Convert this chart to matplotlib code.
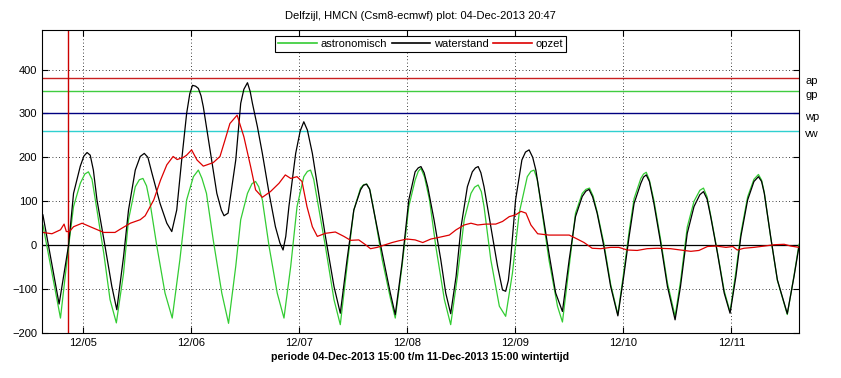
import numpy as np
import pandas as pd
import matplotlib
matplotlib.use('Agg')
from matplotlib import pyplot as plt
import matplotlib.dates as mdates

plt.rcParams['font.family'] = ['Liberation Sans', 'DejaVu Sans']
plt.rcParams['font.size'] = 8

# period shown, hours below are counted from t_start
t_start = pd.Timestamp('2013-12-04 15:00')
t_end = pd.Timestamp('2013-12-11 15:00')
t_plot = pd.Timestamp('2013-12-04 20:47')

# waterstand (black): (hour, cm)
waterstand = [
    (0.2, 69), (3.8, -134), (5.9, 0), (7, 118), (8.5, 180), (9.3, 203), (10, 211),
    (10.7, 205), (11.4, 171), (12.2, 103), (14, -3), (15.5, -94), (16.6, -147),
    (18.1, -26), (19.2, 80), (20.7, 171), (21.8, 202), (22.7, 209), (23.5, 200),
    (24.4, 164), (26.2, 95), (27.7, 50), (28.8, 31), (29.9, 80), (31, 194), (32.1, 300),
    (32.8, 345), (33.4, 364), (34.1, 362), (34.7, 357), (35.3, 340), (35.8, 315),
    (37.3, 217), (38.8, 118), (39.8, 80), (40.4, 67), (41.3, 73), (42.2, 137), (43, 194),
    (44.1, 323), (44.8, 355), (45.6, 370), (46.2, 350), (46.7, 323), (47.8, 270),
    (48.9, 209), (50.4, 118), (51.8, 42), (52.8, 5), (53.5, -11), (54.1, 20), (54.8, 88),
    (56.3, 209), (57.3, 260), (58.1, 281), (58.9, 262), (60, 209), (61.4, 118),
    (62.9, 20), (64.8, -94), (66.2, -155), (67.7, -33), (69.2, 80), (70.7, 126),
    (71.3, 136), (72, 139), (72.7, 128), (73.6, 80), (75.5, -18), (77.3, -109),
    (78.4, -158), (79.9, -41), (81.4, 103), (82.8, 167), (83.5, 176), (84.1, 179),
    (84.8, 165), (85.6, 133), (87, 58), (88.5, -33), (89.6, -109), (90.7, -156),
    (91.9, -71), (93, 42), (94.4, 133), (95.5, 167), (96.2, 176), (96.8, 179),
    (97.4, 165), (98.1, 133), (99.6, 42), (101.1, -48), (102.2, -102), (102.9, -105),
    (103.5, -80), (104, -33), (105.1, 103), (106.5, 194), (107.3, 212), (108.1, 217),
    (108.9, 200), (109.6, 171), (111, 80), (112.5, -18), (114, -109), (115.5, -151),
    (117, -33), (118.4, 65), (119.9, 111), (120.7, 123), (121.4, 127), (122.2, 110),
    (123.2, 73), (124.7, -3), (126.2, -94), (127.8, -161), (129.1, -71), (130.3, 20),
    (131.4, 95), (132.9, 141), (133.5, 155), (134.1, 160), (134.8, 145), (135.8, 95),
    (137.3, 5), (138.8, -94), (140.5, -170), (141.7, -94), (143.2, 27), (144.7, 88),
    (146, 115), (146.8, 122), (147.6, 105), (148.4, 65), (149.9, -18), (151.4, -109),
    (152.7, -155), (154, -71), (155.1, 20), (156.6, 103), (158, 145), (159, 156),
    (159.7, 145), (160.3, 118), (161.7, 20), (163.2, -79), (165.4, -156), (166.9, -71),
    (168, -3),
]

# astronomisch (green)
astronomisch = [
    (0.2, 46), (4.1, -166), (5.9, -3), (7, 88), (8.5, 141), (9.5, 162), (10.3, 167),
    (11.1, 150), (12.2, 80), (13.7, -18), (15.1, -124), (16.5, -177), (18.1, -64),
    (19.2, 58), (20.7, 133), (21.6, 149), (22.4, 152), (23.2, 135), (24, 95), (25.5, -3),
    (27.3, -109), (28.9, -166), (30.6, -33), (32.1, 103), (33.6, 156), (34.7, 171),
    (35.5, 152), (36.5, 118), (38, 12), (39.9, -109), (41.4, -178), (43, -48), (44.1, 58),
    (45.6, 118), (46.6, 140), (47.4, 145), (48.1, 133), (48.9, 103), (50.4, -3),
    (52.2, -109), (53.7, -166), (55.2, -48), (56.6, 88), (58.1, 156), (58.9, 168),
    (59.6, 171), (60.3, 150), (61.1, 103), (62.9, -3), (64.8, -124), (66.2, -181),
    (67.7, -48), (69.2, 80), (70.7, 130), (71.4, 138), (72.1, 139), (72.8, 125),
    (73.6, 82), (75.5, -33), (77.3, -120), (78.4, -166), (79.9, -48), (81.4, 88),
    (82.8, 148), (83.5, 168), (84.1, 175), (84.9, 155), (86, 103), (87.4, -3),
    (89.3, -124), (90.7, -181), (92.2, -71), (93.7, 58), (95.2, 118), (96, 132),
    (96.8, 137), (97.5, 122), (98.1, 88), (99.6, -33), (101.5, -139), (102.9, -162),
    (104.4, -64), (105.9, 73), (107.7, 156), (108.5, 168), (109.2, 171), (109.9, 150),
    (110.6, 103), (112.5, -33), (114.4, -139), (115.5, -175), (117, -48), (118.4, 73),
    (119.9, 118), (120.7, 127), (121.5, 130), (122.3, 112), (123.2, 76), (124.7, 4),
    (126.2, -89), (127.8, -158), (129.1, -62), (130.3, 31), (131.4, 106), (132.9, 152),
    (133.5, 162), (134.1, 166), (134.8, 148), (135.8, 102), (137.3, 12), (138.8, -86),
    (140.5, -162), (141.7, -83), (143.2, 41), (144.7, 100), (146, 125), (146.8, 130),
    (147.6, 110), (148.4, 68), (149.9, -16), (151.4, -104), (152.7, -152), (154, -60),
    (155.1, 27), (156.6, 110), (158, 150), (159, 161), (159.7, 148), (160.3, 120),
    (161.7, 19), (163.2, -80), (165.4, -158), (166.9, -69), (168, 2),
]

# opzet (red)
opzet = [
    (0.2, 29), (2.2, 26), (4.1, 35), (4.9, 48), (5.4, 31), (6.1, 31), (7, 42), (8.9, 50),
    (10.7, 42), (13.7, 29), (16.2, 29), (17.3, 36), (19.6, 50), (21.8, 58), (22.9, 67),
    (24.8, 103), (26.3, 148), (27.7, 183), (29.1, 202), (30, 195), (31.4, 200),
    (32.1, 205), (33.2, 217), (34.4, 194), (35.8, 180), (38, 188), (39.5, 202),
    (40.6, 239), (41.7, 277), (43.3, 296), (44.8, 247), (46.3, 179), (47.4, 126),
    (48.9, 109), (50.7, 122), (52.6, 141), (54, 160), (55.2, 152), (56.6, 156),
    (57.7, 145), (58.8, 88), (60, 42), (61.1, 20), (62.9, 27), (65.1, 30), (67, 20),
    (68.5, 11), (70.3, 12), (71.8, 1), (72.9, -8), (74.4, -5), (76.2, 1), (77.7, 6),
    (79.2, 10), (81, 14), (82.8, 12), (84.5, 6), (86.3, 14), (88.2, 18), (90.4, 23),
    (91.9, 35), (93.7, 46), (95.2, 50), (96.7, 46), (98.5, 48), (100.7, 48), (102.2, 54),
    (103.7, 65), (105.1, 69), (106.3, 77), (107.4, 73), (108.5, 46), (110, 26),
    (112.5, 23), (114.8, 23), (117, 23), (118.4, 16), (120.3, 6), (122.1, -7), (124, -8),
    (126.2, -5), (128, -5), (129.9, -11), (132.1, -12), (134.3, -8), (136.5, -7),
    (139.5, -8), (141.7, -11), (144, -14), (145.8, -12), (147.7, -3), (149.6, -2),
    (151.8, -5), (153.3, -3), (154.3, -11), (155.8, -7), (158, -5), (160.3, -2),
    (162.5, 1), (164.7, 2), (166.2, -2), (168, -5),
]

# levels on the right
lvl_names = ['ap', 'gp', 'wp', 'vw']
lvl_values = [380, 350, 300, 260]
lvl_colors = ['#c82020', '#40cc40', '#000080', '#30d0d0']


def split(series):
    arr = np.array(series, dtype=float)
    t = t_start + pd.to_timedelta(arr[:, 0], unit='h')
    return t, arr[:, 1]


fig = plt.figure(figsize=(8.41, 3.78), dpi=100)
ax = fig.add_axes([42 / 841, 1 - 333 / 378, 757 / 841, 303 / 378])

ax.axhline(0, color='k', lw=0.9)
for name, val, col in zip(lvl_names, lvl_values, lvl_colors):
    ax.axhline(val, color=col, lw=1.0)
    ax.text(1.008, val - 7, name, transform=ax.get_yaxis_transform(),
            va='center', ha='left', fontsize=8)
ax.axvline(t_plot, color='#cc0000', lw=1.0)

t, v = split(astronomisch)
ax.plot(t, v, color='#33cc33', lw=0.9, label='astronomisch')
t, v = split(waterstand)
ax.plot(t, v, color='k', lw=0.9, label='waterstand')
t, v = split(opzet)
ax.plot(t, v, color='#dd0000', lw=0.9, label='opzet')

ax.set_xlim(t_start, t_end)
ax.set_ylim(-200, 490)
ax.set_yticks([-200, -100, 0, 100, 200, 300, 400])
ax.xaxis.set_major_locator(mdates.DayLocator())
ax.xaxis.set_major_formatter(mdates.DateFormatter('%m/%d'))
ax.grid(True, color='k', linestyle=(0, (1, 3)), lw=0.6)
ax.tick_params(direction='in', top=True, right=True, length=4, labelsize=8)
for s in ax.spines.values():
    s.set_linewidth(0.8)

ax.set_title('Delfzijl, HMCN (Csm8-ecmwf) plot: 04-Dec-2013 20:47', fontsize=8, pad=8)
ax.set_xlabel('periode 04-Dec-2013 15:00 t/m 11-Dec-2013 15:00 wintertijd',
              fontsize=7.7, fontweight='bold', labelpad=3)

leg = ax.legend(loc='upper center', ncol=3, fontsize=8, frameon=True, fancybox=False,
                edgecolor='k', framealpha=1, handlelength=3.5, columnspacing=0.4,
                handletextpad=0.3, borderaxespad=0.5, borderpad=0.3)
leg.get_frame().set_linewidth(0.8)
for line in leg.get_lines():
    line.set_linewidth(1.2)

fig.savefig('out.png', dpi=100)
